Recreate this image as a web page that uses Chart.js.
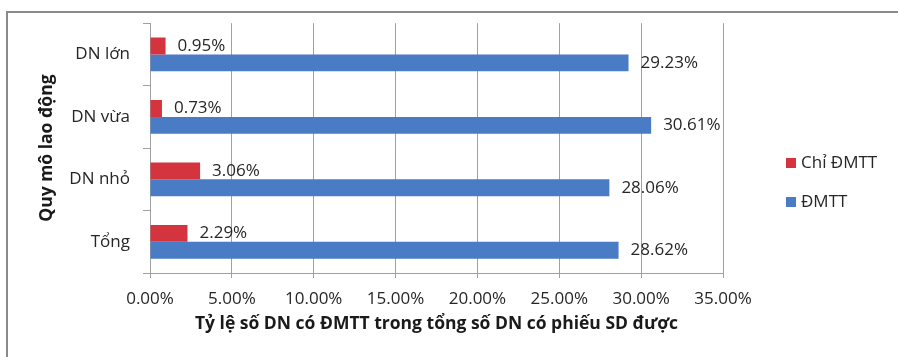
<!DOCTYPE html>
<html>
<head>
<meta charset="utf-8">
<script src="https://cdn.jsdelivr.net/npm/chart.js@4.4.1/dist/chart.umd.min.js"></script>
<style>
  html, body { margin: 0; padding: 0; background: #ffffff; }
  #wrap { position: relative; width: 898px; height: 357px; }
</style>
</head>
<body>
<div id="wrap"><canvas id="chart" width="898" height="357"></canvas></div>
<script>
// Quy mô lao động (categories, top to bottom)
const categories = ['DN lớn', 'DN vừa', 'DN nhỏ', 'Tổng'];
// Series values, in percent
const chiDmtt = [0.95, 0.73, 3.06, 2.29];
const dmtt = [29.23, 30.61, 28.06, 28.62];
const seriesNames = ['Chỉ ĐMTT', 'ĐMTT'];
// X axis tick values (percent)
const xTicks = [0, 5, 10, 15, 20, 25, 30, 35];

const axisTitleX = 'Tỷ lệ số DN có ĐMTT trong tổng số DN có phiếu SD được';
const axisTitleY = 'Quy mô lao động';

const RED = '#d3343e';
const BLUE = '#4a7bc5';
const FONT = "'Open Sans', 'Noto Sans', sans-serif";
const GRID = '#a0a0a0';
const TEXT = '#262626';

Chart.defaults.font.family = FONT;

// Outer frame of the figure
const framePlugin = {
  id: 'frame',
  beforeDraw(chart) {
    const ctx = chart.ctx;
    ctx.save();
    ctx.strokeStyle = '#8a8a8a';
    ctx.lineWidth = 2;
    ctx.beginPath();
    ctx.moveTo(7, chart.height);
    ctx.lineTo(7, 12);
    ctx.lineTo(chart.width, 12);
    ctx.stroke();
    ctx.restore();
  }
};

// Value labels to the right of each bar
const valueLabels = {
  id: 'valueLabels',
  afterDatasetsDraw(chart) {
    const ctx = chart.ctx;
    ctx.save();
    ctx.font = '17px ' + FONT;
    ctx.fillStyle = TEXT;
    ctx.textAlign = 'left';
    ctx.textBaseline = 'middle';
    chart.data.datasets.forEach((ds, i) => {
      const meta = chart.getDatasetMeta(i);
      meta.data.forEach((bar, j) => {
        ctx.fillText(ds.data[j].toFixed(2) + '%', bar.x + 12, bar.y);
      });
    });
    ctx.restore();
  }
};

// Legend at the right, series in reading order
const sideLegend = {
  id: 'sideLegend',
  afterDraw(chart) {
    const ctx = chart.ctx;
    ctx.save();
    ctx.font = '17px ' + FONT;
    ctx.textAlign = 'left';
    ctx.textBaseline = 'middle';
    chart.data.datasets.forEach((ds, i) => {
      const cy = 163 + i * 39;
      ctx.fillStyle = ds.backgroundColor;
      ctx.fillRect(786, cy - 5, 10, 10);
      ctx.fillStyle = TEXT;
      ctx.fillText(ds.label, 801, cy);
    });
    ctx.restore();
  }
};

new Chart(document.getElementById('chart'), {
  type: 'bar',
  data: {
    labels: categories,
    datasets: [
      { label: seriesNames[0], data: chiDmtt, backgroundColor: RED },
      { label: seriesNames[1], data: dmtt, backgroundColor: BLUE }
    ]
  },
  options: {
    indexAxis: 'y',
    responsive: false,
    animation: false,
    devicePixelRatio: 1,
    layout: { padding: { left: 0, right: 175, top: 19, bottom: 0 } },
    datasets: {
      bar: { categoryPercentage: 0.54, barPercentage: 1.0 }
    },
    plugins: {
      legend: { display: false },
      tooltip: { enabled: false }
    },
    scales: {
      x: {
        type: 'linear',
        min: xTicks[0],
        max: xTicks[xTicks.length - 1],
        afterBuildTicks(scale) {
          scale.ticks = xTicks.map(v => ({ value: v }));
        },
        afterFit(scale) { scale.height = 84; },
        grid: { color: GRID, lineWidth: 1, tickLength: 5, drawTicks: true },
        border: { color: GRID, width: 1 },
        ticks: {
          padding: 11,
          color: TEXT,
          font: { size: 17 },
          callback: v => Number(v).toFixed(2) + '%'
        },
        title: {
          display: true,
          text: axisTitleX,
          color: '#1a1a1a',
          font: { size: 17.5, weight: 'bold' },
          padding: { top: 0, bottom: 22 }
        }
      },
      y: {
        afterFit(scale) { scale.width = 150; },
        grid: { display: true, drawOnChartArea: false, offset: true, color: GRID, tickLength: 7 },
        border: { color: GRID, width: 1 },
        ticks: {
          padding: 13,
          color: TEXT,
          font: { size: 17 }
        },
        title: {
          display: true,
          text: axisTitleY,
          color: '#1a1a1a',
          font: { size: 17.5, weight: 'bold' },
          padding: { top: 37, bottom: 0 }
        }
      }
    }
  },
  plugins: [framePlugin, valueLabels, sideLegend]
});
</script>
</body>
</html>
